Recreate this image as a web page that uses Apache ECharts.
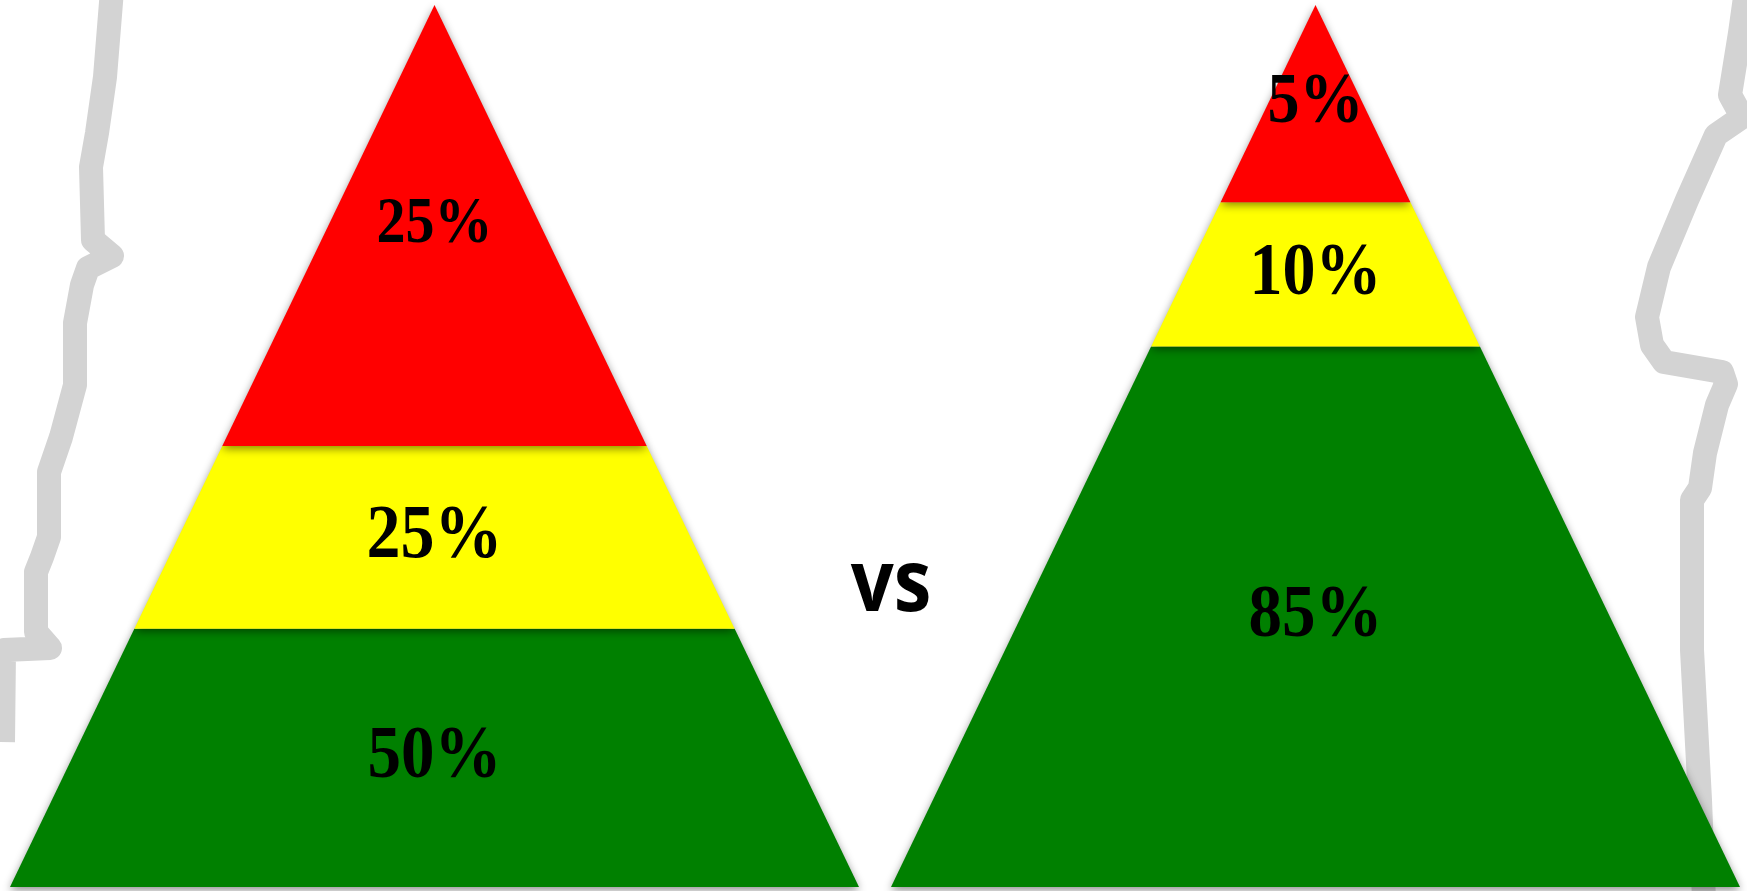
<!DOCTYPE html>
<html>
<head>
<meta charset="utf-8">
<title>Pyramids</title>
<script src="https://cdn.jsdelivr.net/npm/echarts@6/dist/echarts.min.js"></script>
<style>
  html, body { margin: 0; padding: 0; background: #ffffff; }
  #chart { width: 1747px; height: 891px; }
</style>
</head>
<body>
<div id="chart"></div>
<script>
// Tiers from apex to base, and each pyramid's share per tier (percent)
const tiers = ['Top', 'Middle', 'Base'];
const leftShares = [25, 25, 50];
const rightShares = [5, 10, 85];

// Styling
const tierColors = ['#ff0000', '#ffff00', '#008000'];
const leftLabelSizes = [58, 68, 67];
const rightLabelSizes = [64, 66, 67];

// Decorative torn-paper edges at both sides of the slide
const tornEdgeLeft = [
  [112, -10], [105, 77], [97, 133], [91, 167], [93, 240], [112, 256], [88, 268],
  [82, 285], [75, 323], [75, 385], [61, 437], [49, 472], [49, 537], [42, 557],
  [36, 572], [36, 632], [50, 648], [4, 650], [3, 742]
];
const tornEdgeRight = [
  [1746, -10], [1740, 33], [1730, 95], [1742, 117], [1716, 135], [1687, 200],
  [1659, 267], [1647, 317], [1652, 345], [1664, 362], [1722, 372], [1726, 384],
  [1717, 405], [1705, 453], [1700, 488], [1692, 500], [1692, 650], [1700, 800],
  [1704, 900]
];

// Each tier becomes [share, cumulative start, cumulative end]
function buildData(shares) {
  let cum = 0;
  return shares.map(function (s, i) {
    const from = cum;
    cum += s;
    return { name: tiers[i], value: [s, from, cum] };
  });
}

// Tier areas are proportional to their shares: the cut at cumulative share c
// lies at depth sqrt(c) below the apex, where the half-width equals the depth.
function makeRenderer(labelSizes) {
  return function (params, api) {
    const i = params.dataIndex;
    const t1 = Math.sqrt(api.value(1) / 100);
    const t2 = Math.sqrt(api.value(2) / 100);
    const pts = [[-t1, t1], [t1, t1], [t2, t2], [-t2, t2]].map(function (p) {
      return api.coord(p);
    });
    const mid = api.coord([0, (t1 + t2) / 2]);
    return {
      type: 'group',
      children: [
        {
          type: 'polygon',
          z2: 10 - i,
          shape: { points: pts },
          style: {
            fill: tierColors[i],
            shadowBlur: 8,
            shadowOffsetY: 3,
            shadowColor: 'rgba(0,0,0,0.45)'
          }
        },
        {
          type: 'text',
          z2: 50,
          x: mid[0],
          y: mid[1],
          scaleY: 1.12,
          style: {
            text: api.value(0) + '%',
            fontFamily: '"Liberation Serif", "DejaVu Serif", serif',
            fontWeight: 'bold',
            fontSize: labelSizes[i],
            fill: '#000000',
            align: 'center',
            verticalAlign: 'middle',
            textAlign: 'center',
            textVerticalAlign: 'middle'
          }
        }
      ]
    };
  };
}

const chart = echarts.init(document.getElementById('chart'), null, { renderer: 'canvas' });

const hiddenX = { type: 'value', min: -1, max: 1, show: false };
const hiddenY = { type: 'value', min: 0, max: 1, inverse: true, show: false };

chart.setOption({
  backgroundColor: '#ffffff',
  animation: false,
  grid: [
    { left: 10, top: 5, width: 849, height: 882 },
    { left: 891, top: 5, width: 849, height: 882 }
  ],
  xAxis: [
    Object.assign({ gridIndex: 0 }, hiddenX),
    Object.assign({ gridIndex: 1 }, hiddenX)
  ],
  yAxis: [
    Object.assign({ gridIndex: 0 }, hiddenY),
    Object.assign({ gridIndex: 1 }, hiddenY)
  ],
  graphic: [
    {
      type: 'polyline', z: 0, silent: true,
      shape: { points: tornEdgeLeft },
      style: { stroke: '#d3d3d3', lineWidth: 24, fill: null, lineJoin: 'round' }
    },
    {
      type: 'polyline', z: 0, silent: true,
      shape: { points: tornEdgeRight },
      style: { stroke: '#d3d3d3', lineWidth: 24, fill: null, lineJoin: 'round' }
    },
    {
      type: 'text', z: 5, silent: true,
      x: 891, y: 586, scaleX: 0.88,
      style: {
        text: 'vs',
        fontFamily: '"Open Sans", "Noto Sans", sans-serif',
        fontWeight: 'bold',
        fontSize: 86,
        fill: '#000000',
        align: 'center',
        verticalAlign: 'middle',
        textAlign: 'center',
        textVerticalAlign: 'middle'
      }
    }
  ],
  series: [
    {
      type: 'custom',
      xAxisIndex: 0,
      yAxisIndex: 0,
      z: 2,
      renderItem: makeRenderer(leftLabelSizes),
      data: buildData(leftShares)
    },
    {
      type: 'custom',
      xAxisIndex: 1,
      yAxisIndex: 1,
      z: 2,
      renderItem: makeRenderer(rightLabelSizes),
      data: buildData(rightShares)
    }
  ]
});
</script>
</body>
</html>
